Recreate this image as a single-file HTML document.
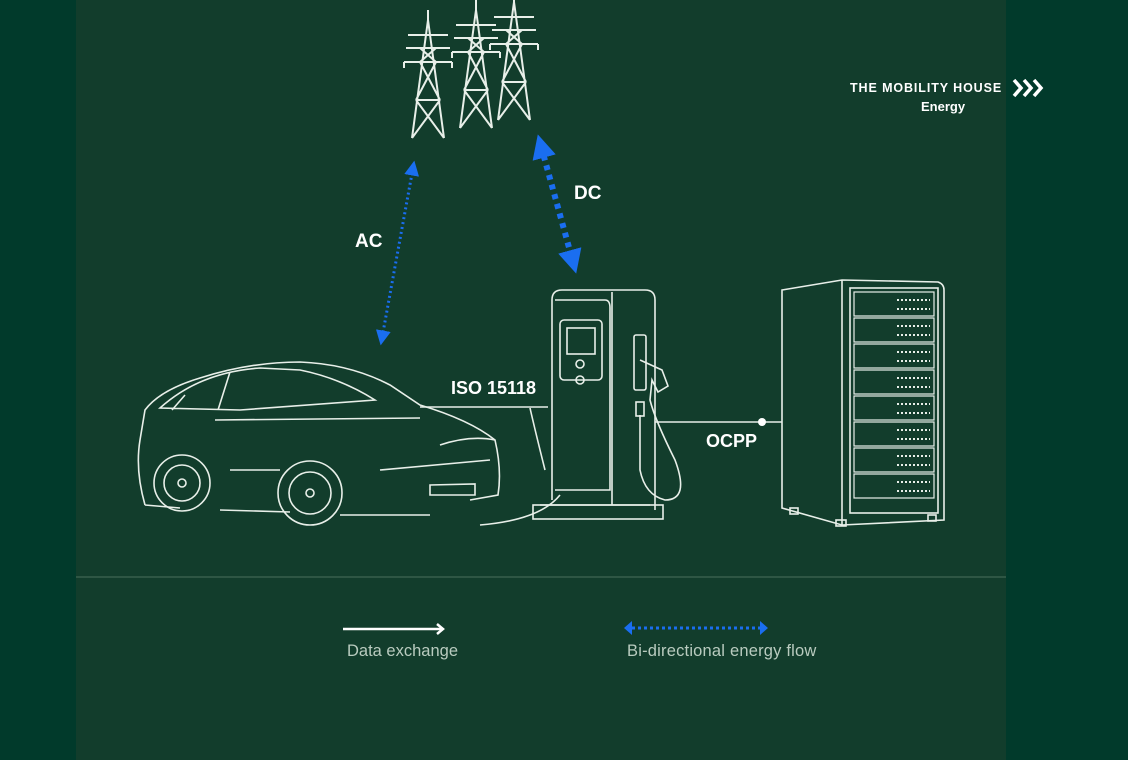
<!DOCTYPE html>
<html><head><style>
html,body{margin:0;padding:0;background:#013a2b;}
body{width:1128px;height:760px;position:relative;overflow:hidden;font-family:"Liberation Sans",sans-serif;}
#panel{position:absolute;left:76px;top:0;width:930px;height:760px;background:#123d2c;}
</style></head><body>
<div id="panel"></div>
<svg width="1128" height="760" style="position:absolute;left:0;top:0" xmlns="http://www.w3.org/2000/svg">
<defs>
<marker id="bh" viewBox="0 0 10 10" refX="5" refY="5" markerWidth="4" markerHeight="4" orient="auto-start-reverse"><path d="M0,0 L10,5 L0,10 z" fill="#1a6ef0"/></marker>
<marker id="bh2" viewBox="0 0 10 10" refX="5" refY="5" markerWidth="5" markerHeight="5" orient="auto-start-reverse"><path d="M0,0 L10,5 L0,10 z" fill="#1a6ef0"/></marker>
</defs>
<line x1="76" y1="577" x2="1006" y2="577" stroke="#4a6e5c" stroke-width="1"/>
<!-- towers -->
<g stroke="#e8efe9" stroke-width="2" fill="none">
 <g id="tw">
  <path d="M412,138 L428,20 L444,138 M428,20 L428,10 M404,62 L452,62 M406,48 L450,48 M416,100 L440,100 M412,138 L440,100 M444,138 L416,100 M420,62 L440,100 M436,62 L416,100 M404,62 L404,68 M452,62 L452,68 M408,35 L448,35 M420,48 L436,62 M436,48 L420,62"/>
 </g>
 <use href="#tw" x="48" y="-10"/>
 <use href="#tw" x="86" y="-18"/>
</g>
<!-- AC arrow -->
<line x1="413" y1="168" x2="382" y2="338" stroke="#1a6ef0" stroke-width="3" stroke-dasharray="2 3" marker-start="url(#bh2)" marker-end="url(#bh2)"/>
<!-- DC arrow -->
<line x1="541" y1="146" x2="573" y2="262" stroke="#1a6ef0" stroke-width="6" stroke-dasharray="5 5" marker-start="url(#bh)" marker-end="url(#bh)"/>
<text x="355" y="247" fill="#fff" font-size="19" font-weight="bold">AC</text>
<text x="574" y="199" fill="#fff" font-size="19" font-weight="bold">DC</text>
<!-- car -->
<g stroke="#e8efe9" stroke-width="1.6" fill="none">
 <path d="M145,505 Q135,470 140,440 L145,410 Q160,390 200,378 Q250,362 300,362 Q350,364 390,385 L420,405 Q470,420 495,440 Q502,470 498,495 L470,500 M145,505 L180,508 M220,510 L290,512 M340,515 L430,515"/>
 <path d="M160,408 Q200,372 260,368 L300,370 Q340,378 375,400 L240,410 Z M230,372 L218,410 M185,395 L172,410"/>
 <circle cx="182" cy="483" r="28"/><circle cx="182" cy="483" r="18"/><circle cx="182" cy="483" r="4"/>
 <circle cx="310" cy="493" r="32"/><circle cx="310" cy="493" r="21"/><circle cx="310" cy="493" r="4"/>
 <path d="M215,420 L420,418 M230,470 L280,470 M380,470 L490,460 M430,485 L475,484 L475,495 L430,495 Z M440,445 Q470,435 495,440"/>
</g>
<line x1="420" y1="407" x2="548" y2="407" stroke="#e8efe9" stroke-width="1.6"/>
<text x="451" y="394" fill="#fff" font-size="18" font-weight="bold">ISO 15118</text>
<!-- charger -->
<g stroke="#e8efe9" stroke-width="1.6" fill="none">
 <path d="M552,500 L552,300 Q552,290 562,290 L645,290 Q655,290 655,300 L655,510"/>
 <path d="M612,292 L612,505 M555,300 L605,300 Q610,300 610,308 L610,490 L555,490"/>
 <rect x="560" y="320" width="42" height="60" rx="4"/><rect x="567" y="328" width="28" height="26"/>
 <circle cx="580" cy="364" r="4"/><circle cx="580" cy="380" r="4"/>
 <rect x="533" y="505" width="130" height="14"/><path d="M540,505 L650,505"/>
 <rect x="634" y="335" width="12" height="55" rx="2"/><rect x="636" y="402" width="8" height="14"/>
 <path d="M640,360 L662,370 L668,386 L658,392 L652,380 L650,400 Q655,420 675,460 Q690,500 665,500 Q645,495 640,470 L640,415 M530,408 Q535,430 545,470 M560,495 Q540,520 480,525"/>
</g>
<!-- OCPP -->
<line x1="655" y1="422" x2="782" y2="422" stroke="#e8efe9" stroke-width="1.6"/>
<circle cx="762" cy="422" r="4" fill="#fff"/>
<text x="706" y="447" fill="#fff" font-size="18" font-weight="bold">OCPP</text>
<!-- rack -->
<g stroke="#e8efe9" stroke-width="1.6" fill="none">
 <path d="M782,290 L842,280 L938,282 Q944,284 944,290 L944,520 L842,525 L782,508 Z M842,280 L842,525"/>
 <rect x="850" y="288" width="88" height="225"/>
 <rect x="790" y="508" width="8" height="6"/><rect x="836" y="520" width="10" height="6"/><rect x="928" y="515" width="8" height="6"/>
</g>
<g stroke="#e8efe9" stroke-width="1.2" fill="none">
 <rect x="854" y="292" width="80" height="24"/><rect x="854" y="318" width="80" height="24"/><rect x="854" y="344" width="80" height="24"/><rect x="854" y="370" width="80" height="24"/><rect x="854" y="396" width="80" height="24"/><rect x="854" y="422" width="80" height="24"/><rect x="854" y="448" width="80" height="24"/><rect x="854" y="474" width="80" height="24"/>
</g>
<g stroke="#e8efe9" stroke-width="2" stroke-dasharray="2 2">
 <path d="M897,300 H930 M897,309 H930 M897,326 H930 M897,335 H930 M897,352 H930 M897,361 H930 M897,378 H930 M897,387 H930 M897,404 H930 M897,413 H930 M897,430 H930 M897,439 H930 M897,456 H930 M897,465 H930 M897,482 H930 M897,491 H930"/>
</g>
<!-- logo -->
<text x="850" y="92" fill="#fff" font-size="12.5" font-weight="bold" letter-spacing="0.9">THE MOBILITY HOUSE</text>
<text x="921" y="111" fill="#fff" font-size="13" font-weight="bold">Energy</text>
<path d="M1014,80 l7,8 l-7,8 M1024,80 l7,8 l-7,8 M1034,80 l7,8 l-7,8" stroke="#fff" stroke-width="3.5" fill="none"/>
<!-- legend -->
<line x1="343" y1="629" x2="441" y2="629" stroke="#fff" stroke-width="2.5"/>
<path d="M437,624 l6,5 l-6,5" stroke="#fff" stroke-width="2.5" fill="none"/>
<text x="347" y="656" fill="#b9cbbf" font-size="16.5">Data exchange</text>
<line x1="632" y1="628" x2="760" y2="628" stroke="#1a6ef0" stroke-width="3" stroke-dasharray="3 3"/>
<path d="M632,621 l-8,7 l8,7 z M760,621 l8,7 l-8,7 z" fill="#1a6ef0"/>
<text x="627" y="656" fill="#b9cbbf" font-size="16.5" letter-spacing="0.2">Bi-directional energy flow</text>
</svg>
</body></html>
